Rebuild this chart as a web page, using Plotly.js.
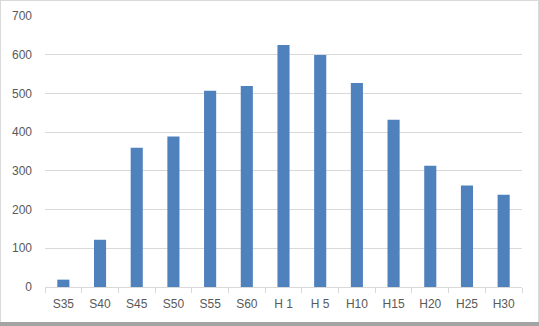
<!DOCTYPE html>
<html>
<head>
<meta charset="utf-8">
<script src="https://cdn.plot.ly/plotly-3.0.1.min.js"></script>
<style>
  html, body { margin: 0; padding: 0; background: #fff; }
  #wrap { position: relative; width: 539px; height: 326px; overflow: hidden; }
  #chart { position: absolute; left: 0; top: 0; width: 539px; height: 326px; }
  #frame { position: absolute; left: 0; top: 0; width: 537px; height: 321px;
           border: 1px solid #d9d9d9; border-bottom: none; pointer-events: none; }
  #shadow { position: absolute; left: 0; top: 322px; width: 539px; height: 4px;
            background: #a3a3a3; pointer-events: none; }
</style>
</head>
<body>
<div id="wrap">
  <div id="chart"></div>
  <div id="frame"></div>
  <div id="shadow"></div>
</div>
<script>
const categories = ["S35", "S40", "S45", "S50", "S55", "S60", "H 1", "H 5", "H10", "H15", "H20", "H25", "H30"];
const values = [19, 122, 360, 389, 507, 519, 625, 599, 527, 432, 313, 262, 238];
const yTicks = [0, 100, 200, 300, 400, 500, 600, 700];

const trace = {
  type: "bar",
  x: categories,
  y: values,
  marker: { color: "#4F81BD" },
  hoverinfo: "x+y"
};

const layout = {
  width: 539,
  height: 326,
  margin: { l: 45, r: 17, t: 16, b: 38.5 },
  paper_bgcolor: "#ffffff",
  plot_bgcolor: "#ffffff",
  showlegend: false,
  bargap: 0.67,
  font: { family: "Liberation Sans, Arial, sans-serif", size: 12, color: "#595959" },
  xaxis: {
    type: "category",
    showline: true,
    linecolor: "#d9d9d9",
    linewidth: 1,
    ticks: "outside",
    tickson: "boundaries",
    ticklen: 5,
    tickcolor: "#d9d9d9",
    showgrid: false,
    zeroline: false,
    ticklabelstandoff: 6,
    tickfont: { size: 12, color: "#595959" }
  },
  yaxis: {
    range: [0, 700],
    tickvals: yTicks,
    ticktext: yTicks.map(String),
    showline: false,
    ticks: "",
    showgrid: true,
    gridcolor: "#d9d9d9",
    gridwidth: 1,
    zeroline: false,
    ticklabelstandoff: 12,
    tickfont: { size: 12, color: "#595959" }
  }
};

Plotly.newPlot("chart", [trace], layout, { displayModeBar: false, staticPlot: true });
</script>
</body>
</html>
